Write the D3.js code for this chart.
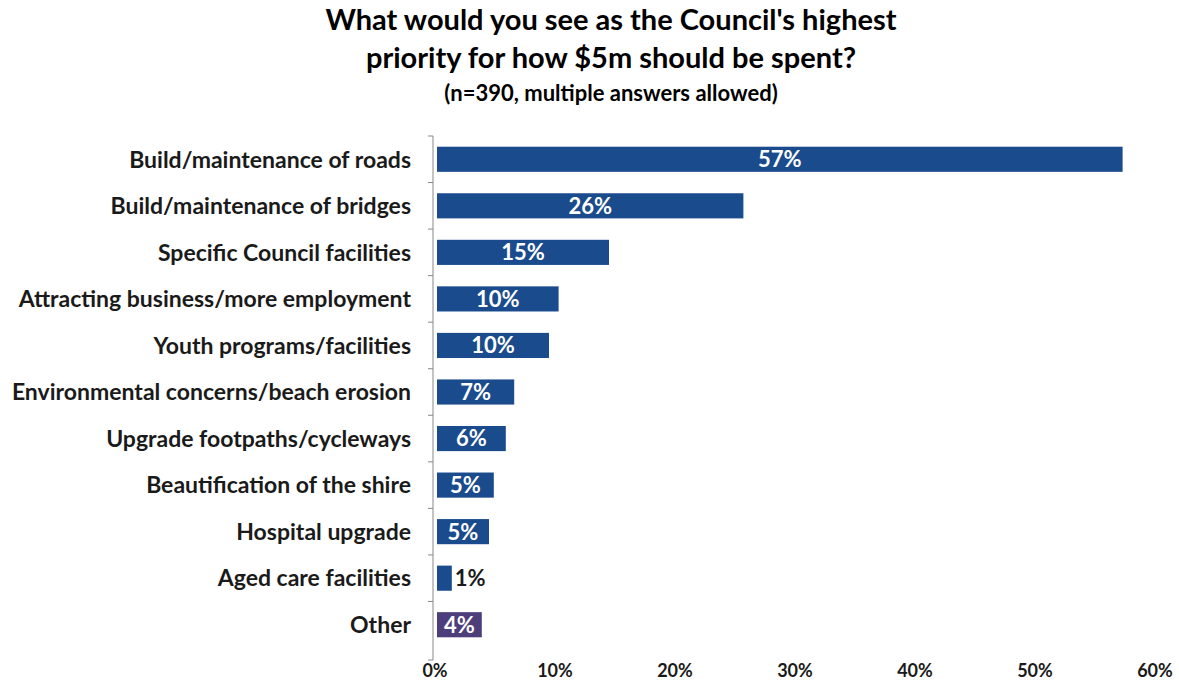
<!DOCTYPE html>
<html>
<head>
<meta charset="utf-8">
<script src="https://cdn.jsdelivr.net/npm/d3@7"></script>
<style>
  body { margin: 0; background: #fff; }
  text { font-family: Lato, "Open Sans", sans-serif; font-weight: 700; }
</style>
</head>
<body>
<svg width="1179" height="683"></svg>
<script>
// Data
const categories = [
  "Build/maintenance of roads",
  "Build/maintenance of bridges",
  "Specific Council facilities",
  "Attracting business/more employment",
  "Youth programs/facilities",
  "Environmental concerns/beach erosion",
  "Upgrade footpaths/cycleways",
  "Beautification of the shire",
  "Hospital upgrade",
  "Aged care facilities",
  "Other"
];
const values = [57.3, 25.7, 14.5, 10.3, 9.5, 6.6, 5.9, 4.9, 4.5, 1.4, 3.9];
const valueLabels = ["57%", "26%", "15%", "10%", "10%", "7%", "6%", "5%", "5%", "1%", "4%"];
const tickValues = [0, 10, 20, 30, 40, 50, 60];

const svg = d3.select("svg"),
  width = +svg.attr("width"),
  height = +svg.attr("height");

const margin = { left: 435, top: 136 };

const x = d3.scaleLinear()
  .domain([0, 60])
  .range([margin.left, 1155]);

const y = d3.scaleBand()
  .domain(categories)
  .range([margin.top, 648])
  .paddingInner(0.46)
  .paddingOuter(0.23);

// Titles
svg.append("text")
  .attr("x", 611).attr("y", 30)
  .attr("text-anchor", "middle")
  .style("font-size", "29px")
  .text("What would you see as the Council's highest");
svg.append("text")
  .attr("x", 611).attr("y", 68)
  .attr("text-anchor", "middle")
  .style("font-size", "29px")
  .text("priority for how $5m should be spent?");
svg.append("text")
  .attr("x", 611).attr("y", 101)
  .attr("text-anchor", "middle")
  .style("font-size", "22px")
  .text("(n=390, multiple answers allowed)");

// Bars
svg.append("g")
  .selectAll("rect")
  .data(categories)
  .enter()
  .append("rect")
  .attr("x", x(0) + 2)
  .attr("y", d => y(d))
  .attr("width", (d, i) => x(values[i]) - x(0) - 2)
  .attr("height", y.bandwidth())
  .attr("fill", d => d === "Other" ? "#4d3d7a" : "#1a4b8c");

// Value labels
svg.append("g")
  .selectAll("text")
  .data(categories)
  .enter()
  .append("text")
  .attr("x", (d, i) => values[i] < 3 ? x(values[i]) + 3 : (x(0) + 2 + x(values[i])) / 2)
  .attr("y", d => y(d) + y.bandwidth() / 2)
  .attr("dy", "0.36em")
  .attr("text-anchor", (d, i) => values[i] < 3 ? "start" : "middle")
  .attr("fill", (d, i) => values[i] < 3 ? "#1a1a1a" : "#fff")
  .style("font-size", "22px")
  .text((d, i) => valueLabels[i]);

// Category axis
const yAxis = svg.append("g")
  .attr("transform", `translate(${x(0) - 2},0)`);
yAxis.append("line")
  .attr("y1", margin.top).attr("y2", 660)
  .attr("stroke", "#888");
yAxis.selectAll(".tk")
  .data(d3.range(categories.length + 1))
  .enter()
  .append("line")
  .attr("x1", -5).attr("x2", 0)
  .attr("y1", i => i === categories.length ? 660 : y(categories[i]) - y.step() * y.paddingInner() / 2)
  .attr("y2", i => i === categories.length ? 660 : y(categories[i]) - y.step() * y.paddingInner() / 2)
  .attr("stroke", "#888");
yAxis.selectAll(".lbl")
  .data(categories)
  .enter()
  .append("text")
  .attr("x", -22)
  .attr("y", d => y(d) + y.bandwidth() / 2)
  .attr("dy", "0.36em")
  .attr("text-anchor", "end")
  .attr("fill", "#1a1a1a")
  .style("font-size", "23px")
  .text(d => d);

// Percent axis
svg.append("g")
  .selectAll("text")
  .data(tickValues)
  .enter()
  .append("text")
  .attr("x", d => x(d))
  .attr("y", 677)
  .attr("text-anchor", "middle")
  .attr("fill", "#1a1a1a")
  .style("font-size", "18px")
  .text(d => d + "%");
</script>
</body>
</html>
